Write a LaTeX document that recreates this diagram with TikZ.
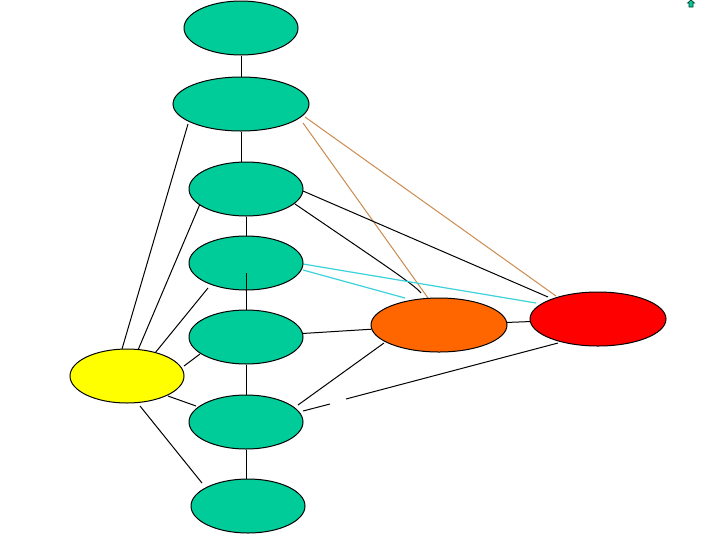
\documentclass[tikz,border=0pt]{standalone}
\usetikzlibrary{shapes.geometric}
\definecolor{teal1}{RGB}{0,204,153}
\definecolor{orng}{RGB}{255,102,0}
\definecolor{ylw}{RGB}{255,255,0}
\definecolor{tanl}{RGB}{204,140,80}
\definecolor{cyanl}{RGB}{60,210,220}
\pgfdeclarelayer{bg}
\pgfsetlayers{bg,main}
\begin{document}
\begin{tikzpicture}[x=0.75pt,y=-0.75pt,
  ell/.style={ellipse,draw=black,line width=0.75pt,inner sep=0pt,minimum width=114*0.75pt,minimum height=54*0.75pt},
  wide/.style={minimum width=136*0.75pt},
  con/.style={draw=black,line width=0.75pt},
  tancon/.style={draw=tanl,line width=0.75pt},
  cyancon/.style={draw=cyanl,line width=0.9pt}]
\useasboundingbox (0,0) rectangle (720,540);
\node[ell,fill=teal1] (n1) at (241,28) {};
\node[ell,wide,fill=teal1] (n2) at (241,104) {};
\node[ell,fill=teal1] (n3) at (246,189) {};
\node[ell,fill=teal1] (n4) at (246,263) {};
\node[ell,fill=teal1] (n5) at (246,337) {};
\node[ell,fill=teal1] (n6) at (246,422) {};
\node[ell,fill=teal1] (n7) at (248,506) {};
\node[ell,fill=ylw] (y) at (127,376) {};
\node[ell,wide,fill=orng] (o) at (439,325) {};
\node[ell,wide,fill=red] (r) at (598,319) {};
\coordinate (n4in) at (246,273);
\coordinate (g1) at (330,404);
\coordinate (g2) at (346,399);
\begin{pgfonlayer}{bg}
\fill[white] (0,0) rectangle (720,540);
% vertical chain
\draw[con] (n1) -- (n2);
\draw[con] (n2.south) -- (n2.south |- n3.north);
\draw[con] (n3) -- (n4);
\draw[con] (n5) -- (n6);
\draw[con] (n6.south) -- (n6.south |- n7.north);
% yellow fan
\draw[con] (122,349) -- (188,124);
\draw[con] (138,350) -- (200,204);
\draw[con] (155,353) -- (208,288);
\draw[con] (184,366) -- (200,354);
\draw[con] (168,396) -- (196,406);
\draw[con] (140,406) -- (202,483);
% right side
\draw[tancon] (303,123) -- (428,298);
\draw[tancon] (305,117) -- (556,296);
\draw[con] (303,191) -- (548,297);
\draw[con] (295,204) .. controls (380,262) and (415,285) .. (421,293);
\draw[cyancon] (303,264) -- (536,303);
\draw[cyancon] (303,270) -- (405,298);
\draw[con] (n5) -- (o);
\draw[con] (o) -- (r);
\draw[con] (298,405) -- (384,343);
\draw[con] (303,411) -- (g1);
\draw[con] (g2) -- (558,343);
\end{pgfonlayer}
\draw[con] (n4in) -- (n5);
% icon
\draw[fill=teal1,draw=black!70!teal1,line width=0.5pt] (689,7) -- (689,3) -- (687.5,3) -- (691,0) -- (694.5,3) -- (693,3) -- (693,7) -- cycle;
\end{tikzpicture}
\end{document}
